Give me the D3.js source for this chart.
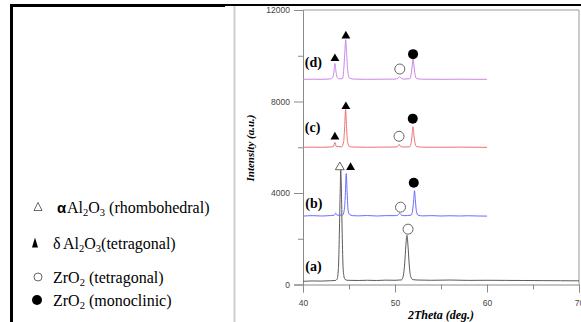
<!DOCTYPE html>
<html>
<head>
<meta charset="utf-8">
<script src="https://cdn.jsdelivr.net/npm/d3@7"></script>
<style>
  body { margin: 0; background: #fff; }
  svg { display: block; }
  .tick text { font-family: "Liberation Sans", Arial, sans-serif; fill: #444; }
</style>
</head>
<body>
<script>
// pattern data: [2theta (deg), intensity (a.u.)]
const seriesA = [[40,140],[41,155],[42,150],[43,165],[43.5,175],[43.7,230],[43.85,700],[43.95,2200],[44.05,4200],[44.1,5000],[44.18,4000],[44.27,2000],[44.38,600],[44.55,230],[44.8,185],[46,175],[47,185],[48,175],[49,190],[50,185],[50.7,200],[50.9,380],[51.05,900],[51.18,1700],[51.3,2150],[51.42,1650],[51.55,850],[51.7,360],[51.95,210],[52.5,195],[54,185],[56,195],[58,180],[60,185],[62,180],[64,175],[66,170],[68,165],[70,160]];
const seriesB = [[40,2990],[41,3010],[42,2995],[43,3015],[43.4,3030],[43.55,3120],[43.7,3030],[44.3,3030],[44.48,3250],[44.6,3900],[44.7,4850],[44.8,4000],[44.9,3250],[45.05,3060],[45.4,3010],[46,3000],[47,3015],[48,2995],[49,3010],[50,3010],[50.3,3030],[50.5,3120],[50.7,3030],[51,3010],[51.75,3030],[51.92,3250],[52.03,3700],[52.12,4100],[52.22,3650],[52.33,3200],[52.5,3030],[53,3000],[54,3010],[55,2995],[56,3005],[57,2995],[58,3005],[59,2995],[60,2990]];
const seriesC = [[40,6000],[41,6005],[42,6000],[43,6010],[43.3,6030],[43.47,6210],[43.62,6030],[44.2,6020],[44.42,6250],[44.53,6900],[44.63,7650],[44.73,6900],[44.84,6250],[45.05,6030],[45.5,6010],[47,6000],[48.5,6005],[50,6010],[50.3,6030],[50.45,6130],[50.62,6030],[51,6010],[51.6,6020],[51.78,6250],[51.87,6600],[51.95,6900],[52.04,6600],[52.14,6250],[52.35,6030],[53,6005],[55,6000],[57,6005],[59,6000],[60,5995]];
const seriesD = [[40,8970],[41,8975],[42,8970],[43,8990],[43.25,9060],[43.38,9350],[43.47,9660],[43.57,9350],[43.7,9060],[43.95,8990],[44.3,9000],[44.43,9400],[44.54,10100],[44.64,10700],[44.74,10100],[44.85,9400],[45.05,9020],[45.5,8980],[47,8970],[48.5,8975],[50,8980],[50.3,9010],[50.5,9080],[50.7,9010],[51,8980],[51.6,8995],[51.78,9250],[51.88,9600],[51.96,9840],[52.05,9600],[52.15,9250],[52.35,9000],[53,8975],[55,8970],[57,8975],[59,8970],[60,8970]];

const seriesNames = ["(a)", "(b)", "(c)", "(d)"];
const seriesColors = ["#5a5a5a", "#6c6cff", "#f07070", "#cc84ec"];
const seriesList = [seriesA, seriesB, seriesC, seriesD];
// where the (a)..(d) labels sit, in data units
const labelTheta = [40.25, 40.25, 40.2, 40.2];
const labelIntensity = [800, 3560, 6880, 9720];

// phase markers: [series, 2theta, intensity, kind]
// kind: "alpha" open triangle, "delta" filled triangle, "zrT" open circle, "zrM" filled circle
const markers = [
  ["(a)", 51.42, 2420, "zrT"],
  ["(b)", 44.0, 5130, "alpha"],
  ["(b)", 45.17, 5120, "delta"],
  ["(b)", 50.6, 3380, "zrT"],
  ["(b)", 52.04, 4450, "zrM"],
  ["(c)", 43.47, 6450, "delta"],
  ["(c)", 44.66, 7780, "delta"],
  ["(c)", 50.44, 6480, "zrT"],
  ["(c)", 51.93, 7250, "zrM"],
  ["(d)", 43.47, 9880, "delta"],
  ["(d)", 44.66, 10870, "delta"],
  ["(d)", 50.52, 9420, "zrT"],
  ["(d)", 51.96, 10070, "zrM"]
];

const xMajorTicks = [40, 50, 60, 70];
const xMinorTicks = [45, 55, 65];
const yMajorTicks = [0, 4000, 8000, 12000];
const yMinorTicks = [2000, 6000, 10000];

// legend
const legendKinds = ["alpha", "delta", "zrT", "zrM"];
const legendGreek = ["α", "δ", "", ""];
const legendParts = [
  [["Al", 0], ["2", 1], ["O", 0], ["3", 1], [" (rhombohedral)", 0]],
  [["Al", 0], ["2", 1], ["O", 0], ["3", 1], ["(tetragonal)", 0]],
  [["ZrO", 0], ["2", 1], [" (tetragonal)", 0]],
  [["ZrO", 0], ["2", 1], [" (monoclinic)", 0]]
];

const W = 581, H = 322;
const svg = d3.select("body").append("svg")
  .attr("width", W)
  .attr("height", H);

// frame decoration of the figure
svg.append("line").attr("x1", 10).attr("x2", 225).attr("y1", 5.5).attr("y2", 5.5)
  .attr("stroke", "#000").attr("stroke-width", 3);
svg.append("line").attr("x1", 11.5).attr("x2", 11.5).attr("y1", 4).attr("y2", H)
  .attr("stroke", "#000").attr("stroke-width", 3);
svg.append("line").attr("x1", 225).attr("x2", W).attr("y1", 5).attr("y2", 5)
  .attr("stroke", "#000").attr("stroke-width", 2);
svg.append("line").attr("x1", 234.5).attr("x2", 234.5).attr("y1", 6).attr("y2", H)
  .attr("stroke", "#cfcfcf").attr("stroke-width", 2);

const x = d3.scaleLinear().domain([40, 70]).range([303, 579]);
const y = d3.scaleLinear().domain([0, 12000]).range([284.5, 10]);

// plot frame (top and right)
svg.append("path")
  .attr("d", `M${x(40)},${y(12000)}H${x(70)}V${y(0)}`)
  .attr("fill", "none").attr("stroke", "#9a9a9a").attr("stroke-width", 1);

// axes
svg.append("g")
  .attr("transform", `translate(0,${y(0)})`)
  .call(d3.axisBottom(x).tickValues(xMajorTicks).tickSize(8).tickPadding(7).tickFormat(d3.format("d")));
svg.append("g")
  .attr("transform", `translate(0,${y(0)})`)
  .call(d3.axisBottom(x).tickValues(xMinorTicks).tickSize(5).tickFormat(""))
  .select(".domain").remove();
svg.append("g")
  .attr("transform", `translate(${x(40)},0)`)
  .call(d3.axisLeft(y).tickValues(yMajorTicks).tickSize(9).tickPadding(4).tickFormat(d3.format("d")));
svg.append("g")
  .attr("transform", `translate(${x(40)},0)`)
  .call(d3.axisLeft(y).tickValues(yMinorTicks).tickSize(5).tickFormat(""))
  .select(".domain").remove();

svg.selectAll(".domain, .tick line").attr("stroke", "#8a8a8a");
svg.selectAll(".tick text").attr("font-size", 8.5);

// axis titles
svg.append("text")
  .attr("x", 441).attr("y", 319)
  .attr("text-anchor", "middle")
  .attr("font-family", "'Liberation Serif', 'Times New Roman', serif")
  .attr("font-weight", "bold").attr("font-style", "italic")
  .attr("font-size", 12)
  .text("2Theta (deg.)");
svg.append("text")
  .attr("transform", "translate(254,148) rotate(-90)")
  .attr("text-anchor", "middle")
  .attr("font-family", "'Liberation Serif', 'Times New Roman', serif")
  .attr("font-weight", "bold").attr("font-style", "italic")
  .attr("font-size", 11)
  .text("Intensity (a.u.)");

// patterns
const line = d3.line()
  .x(d => x(d[0]))
  .y(d => y(d[1]))
  .curve(d3.curveMonotoneX);

svg.selectAll(".pattern")
  .data(seriesList)
  .enter().append("path")
  .attr("class", "pattern")
  .attr("d", line)
  .attr("fill", "none")
  .attr("stroke", (d, i) => seriesColors[i])
  .attr("stroke-width", 1);

svg.selectAll(".slabel")
  .data(seriesNames)
  .enter().append("text")
  .attr("class", "slabel")
  .attr("x", (d, i) => x(labelTheta[i]))
  .attr("y", (d, i) => y(labelIntensity[i]))
  .attr("dy", "0.35em")
  .attr("font-family", "'Liberation Serif', 'Times New Roman', serif")
  .attr("font-weight", "bold")
  .attr("font-size", 14)
  .text(d => d);

// marker shapes
function drawMarker(sel, kind, scale) {
  const s = scale || 1;
  if (kind === "alpha" || kind === "delta") {
    sel.append("path")
      .attr("d", d3.symbol().type(d3.symbolTriangle).size(34 * s * s)())
      .attr("fill", kind === "delta" ? "#000" : "#fff")
      .attr("stroke", kind === "delta" ? "none" : "#555")
      .attr("stroke-width", 0.9);
  } else {
    sel.append("circle")
      .attr("r", 5 * s)
      .attr("fill", kind === "zrM" ? "#000" : "#fff")
      .attr("stroke", kind === "zrM" ? "none" : "#666")
      .attr("stroke-width", 1);
  }
}

svg.selectAll(".marker")
  .data(markers)
  .enter().append("g")
  .attr("class", "marker")
  .attr("transform", d => `translate(${x(d[1])},${y(d[2])})`)
  .each(function(d) { drawMarker(d3.select(this), d[3], 1); });

// legend
const legendY = [207, 243, 277, 300];
const legendSymX = [38, 35, 38, 37];
const legendTextX = [67, 63, 53, 53];
const legendSymScale = [0.85, 0.95, 0.8, 1.0];

legendKinds.forEach((k, i) => {
  const g = svg.append("g").attr("transform", `translate(${legendSymX[i]},${legendY[i]})`);
  if (k === "delta") {
    g.append("path").attr("d", "M0,-5.5L3,4.5L-3,4.5Z").attr("fill", "#000");
  } else if (k === "alpha") {
    g.append("path").attr("d", "M0,-4.5L4,3.5L-4,3.5Z").attr("fill", "none")
      .attr("stroke", "#444").attr("stroke-width", 0.8);
  } else {
    drawMarker(g, k, legendSymScale[i]);
  }
  const base = legendY[i] + 5.5;
  if (legendGreek[i]) {
    svg.append("text")
      .attr("x", k === "alpha" ? 57 : 53).attr("y", base)
      .attr("font-family", k === "alpha" ? "'Liberation Sans', Arial, sans-serif" : "'Liberation Serif', serif")
      .attr("font-size", k === "alpha" ? 15 : 16)
      .attr("font-weight", k === "alpha" ? "bold" : "normal")
      .text(legendGreek[i]);
  }
  const t = svg.append("text")
    .attr("x", legendTextX[i]).attr("y", base)
    .attr("font-family", "'Liberation Serif', 'Times New Roman', serif")
    .attr("font-size", 16)
    .attr("fill", "#000");
  let shifted = false;
  legendParts[i].forEach(p => {
    const ts = t.append("tspan").text(p[0]);
    if (p[1]) {
      ts.attr("font-size", 10.5);
      if (!shifted) { ts.attr("dy", 3); shifted = true; }
    } else if (shifted) {
      ts.attr("dy", -3);
      shifted = false;
    }
  });
});
</script>
</body>
</html>
